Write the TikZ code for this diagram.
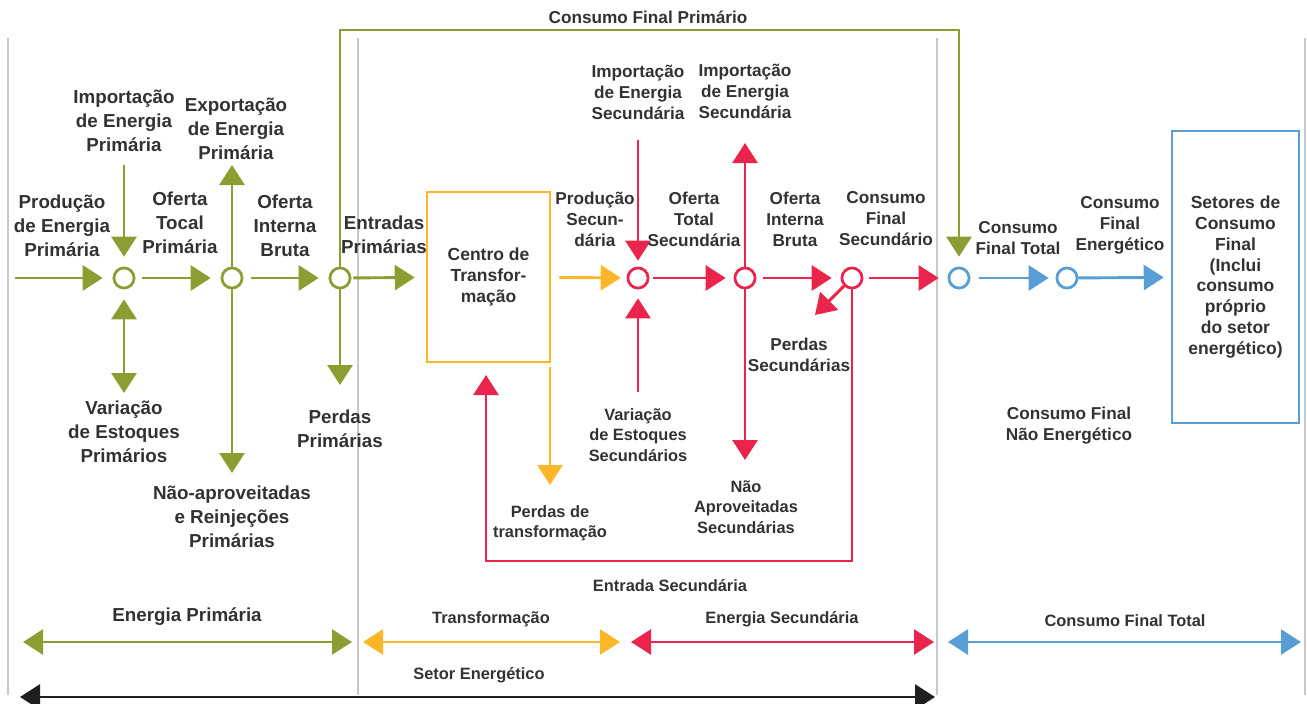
\documentclass[tikz,border=0pt]{standalone}
\definecolor{olivegreen}{RGB}{138,158,50}
\definecolor{ambertone}{RGB}{252,182,40}
\definecolor{crimsonred}{RGB}{234,36,76}
\definecolor{skyblue}{RGB}{88,158,212}
\definecolor{railgray}{RGB}{200,200,200}
\definecolor{inkgray}{RGB}{50,50,50}
\usepackage{fontspec}
\setmainfont{Liberation Sans}
\usepackage{tikz}
\usetikzlibrary{arrows.meta}

\begin{document}
\begin{tikzpicture}[x=1pt,y=-1pt,
  hub/.style={circle,draw,line width=2.6pt,fill=white,minimum size=20pt,inner sep=0pt},
  flow/.style={line width=2.9pt,-{Triangle[length=20pt,width=25pt]}},
  biflow/.style={line width=2.9pt,{Triangle[length=20pt,width=25pt]}-{Triangle[length=20pt,width=25pt]}},
  lbl/.style={font=\fontsize{18.8}{24}\selectfont\bfseries,text=inkgray,align=center},
  lbls/.style={font=\fontsize{17.2}{21}\selectfont\bfseries,text=inkgray,align=center},
  lblt/.style={font=\fontsize{16.4}{20.3}\selectfont\bfseries,text=inkgray,align=center}]
  \useasboundingbox (0,0) rectangle (1307,704);
  \draw[railgray,line width=2.4pt] (8,38) -- (8,695);
  \draw[railgray,line width=2.4pt] (358,38) -- (358,695);
  \draw[railgray,line width=2.4pt] (937,38) -- (937,695);
  \draw[railgray,line width=2.4pt] (1305,38) -- (1305,695);

  \node[hub,draw=olivegreen] (p1) at (124,278) {};
  \node[hub,draw=olivegreen] (p2) at (232,278) {};
  \node[hub,draw=olivegreen] (p3) at (340,278) {};
  \node[hub,draw=crimsonred] (r1) at (638,278) {};
  \node[hub,draw=crimsonred] (r2) at (745,278) {};
  \node[hub,draw=crimsonred] (r3) at (852,278) {};
  \node[hub,draw=skyblue] (q1) at (959,278) {};
  \node[hub,draw=skyblue] (q2) at (1067,278) {};
  \node[draw=ambertone,line width=2.5pt,minimum width=123pt,minimum height=170pt,lbls,font=\fontsize{17.5}{21}\selectfont\bfseries] (ct) at (488.5,277) {Centro de\\Transfor-\\mação};
  \node[draw=skyblue,line width=2.5pt,minimum width=127pt,minimum height=292pt,lbls,font=\fontsize{17.5}{20.8}\selectfont\bfseries] (setores) at (1235.5,277) {Setores de\\Consumo\\Final\\(Inclui\\consumo\\próprio\\do setor\\energético)};

  \coordinate (prodin) at (15,278);
  \coordinate (impin) at (124,165);
  \coordinate (varend) at (124,393);
  \coordinate (expend) at (232,165);
  \coordinate (naoend) at (232,473);
  \coordinate (cfptop) at (340,30);
  \coordinate (perdend) at (340,385);
  \coordinate (ptstart) at (550,367);
  \coordinate (ptend) at (550,485);
  \coordinate (impsin) at (638,140);
  \coordinate (varsin) at (638,392);
  \coordinate (expsend) at (745,143);
  \coordinate (naosend) at (745,460);
  \coordinate (perdsend) at (815,315);
  \coordinate (loopcorner) at (852,561);
  \coordinate (loopend) at (486,375);

  \draw[flow,olivegreen,shorten >=10pt] (prodin) -- (p1);
  \draw[flow,olivegreen,shorten <=7pt,shorten >=10pt] (p1) -- (p2);
  \draw[flow,olivegreen,shorten <=8pt,shorten >=10pt] (p2) -- (p3);
  \draw[flow,olivegreen,shorten <=2pt,shorten >=11pt] (p3) -- (ct);
  \draw[flow,olivegreen,shorten >=10pt] (impin) -- (p1);
  \draw[biflow,olivegreen,shorten <=10pt] (p1) -- (varend);
  \draw[flow,olivegreen] (p2) -- (expend);
  \draw[flow,olivegreen] (p2) -- (naoend);
  \draw[flow,olivegreen,shorten >=10pt] (p3) -- (cfptop) -| (q1);
  \draw[flow,olivegreen] (p3) -- (perdend);

  \draw[flow,ambertone,shorten <=8pt,shorten >=6pt] (ct) -- (r1);
  \draw[flow,ambertone] (ptstart) -- (ptend);

  \draw[flow,crimsonred,shorten >=6pt] (impsin) -- (r1);
  \draw[flow,crimsonred,shorten >=9pt] (varsin) -- (r1);
  \draw[flow,crimsonred,shorten <=4pt,shorten >=8pt] (r1) -- (r2);
  \draw[flow,crimsonred] (r2) -- (expsend);
  \draw[flow,crimsonred] (r2) -- (naosend);
  \draw[flow,crimsonred,shorten <=7pt,shorten >=9pt] (r2) -- (r3);
  \draw[flow,crimsonred,shorten <=6pt,shorten >=9pt] (r3) -- (q1);
  \draw[flow,crimsonred] (r3) -- (perdsend);
  \draw[flow,crimsonred] (r3) -- (loopcorner) -| (loopend);

  \draw[flow,skyblue,shorten <=9pt,shorten >=7pt] (q1) -- (q2);
  \draw[flow,skyblue,shorten >=7pt] (q2) -- (setores);

  \foreach \h in {p1,p2,p3}
    \node[hub,draw=olivegreen] at (\h) {};
  \foreach \h in {r1,r2,r3}
    \node[hub,draw=crimsonred] at (\h) {};
  \foreach \h in {q1,q2}
    \node[hub,draw=skyblue] at (\h) {};

  \node[lbl] (prodlbl) at (62,226) {Produção\\de Energia\\Primária};
  \node[lbl] (implbl) at (124,121) {Importação\\de Energia\\Primária};
  \node[lbl] (oftlbl) at (180,223) {Oferta\\Tocal\\Primária};
  \node[lbl] (explbl) at (236,129) {Exportação\\de Energia\\Primária};
  \node[lbl] (oiblbl) at (285,226) {Oferta\\Interna\\Bruta};
  \node[lbl] (entlbl) at (384,235) {Entradas\\Primárias};
  \node[lbl] (varlbl) at (124,432) {Variação\\de Estoques\\Primários};
  \node[lbl] (naolbl) at (232,517) {Não-aproveitadas\\e Reinjeções\\Primárias};
  \node[lbl] (perdlbl) at (340,429) {Perdas\\Primárias};
  \node[lbls] (cfplbl) at (648,17) {Consumo Final Primário};
  \node[lbls] (psec) at (595,219) {Produção\\Secun-\\dária};
  \node[lbls] (imps1) at (638,92) {Importação\\de Energia\\Secundária};
  \node[lbls] (imps2) at (745,91) {Importação\\de Energia\\Secundária};
  \node[lbls] (ots) at (694,219) {Oferta\\Total\\Secundária};
  \node[lbls] (oibs) at (795,219) {Oferta\\Interna\\Bruta};
  \node[lbls] (cfs) at (886,219) {Consumo\\Final\\Secundário};
  \node[lbls] (perdsec) at (799,355) {Perdas\\Secundárias};
  \node[lblt] (vars) at (638,435) {Variação\\de Estoques\\Secundários};
  \node[lblt] (naos) at (746,507) {Não\\Aproveitadas\\Secundárias};
  \node[lblt] (pdt) at (550,523) {Perdas de\\transformação};
  \node[lblt] (entsec) at (670,586) {Entrada Secundária};
  \node[lbls] (cft) at (1018,238) {Consumo\\Final Total};
  \node[lbls] (cfe) at (1120,225) {Consumo\\Final\\Energético};
  \node[lbls] (cfne) at (1069,426) {Consumo Final\\Não Energético};

  \coordinate (epl) at (23,642);
  \coordinate (epr) at (352,642);
  \coordinate (trl) at (363,642);
  \coordinate (trr) at (620,642);
  \coordinate (esl) at (631,642);
  \coordinate (esr) at (934,642);
  \coordinate (cfl) at (948,642);
  \coordinate (cfr) at (1301,642);
  \coordinate (sel) at (20,697);
  \coordinate (ser) at (935,697);
  \draw[biflow,olivegreen] (epl) -- (epr);
  \draw[biflow,ambertone] (trl) -- (trr);
  \draw[biflow,crimsonred] (esl) -- (esr);
  \draw[biflow,skyblue] (cfl) -- (cfr);
  \draw[biflow,black!88] (sel) -- (ser);
  \node[lbl] (eplbl) at (187,617) {Energia Primária};
  \node[lblt] (trlbl) at (491,619) {Transformação};
  \node[lblt] (eslbl) at (782,619) {Energia Secundária};
  \node[lblt] (cflbl) at (1125,621) {Consumo Final Total};
  \node[lblt] (selbl) at (479,675) {Setor Energético};
\end{tikzpicture}
\end{document}
